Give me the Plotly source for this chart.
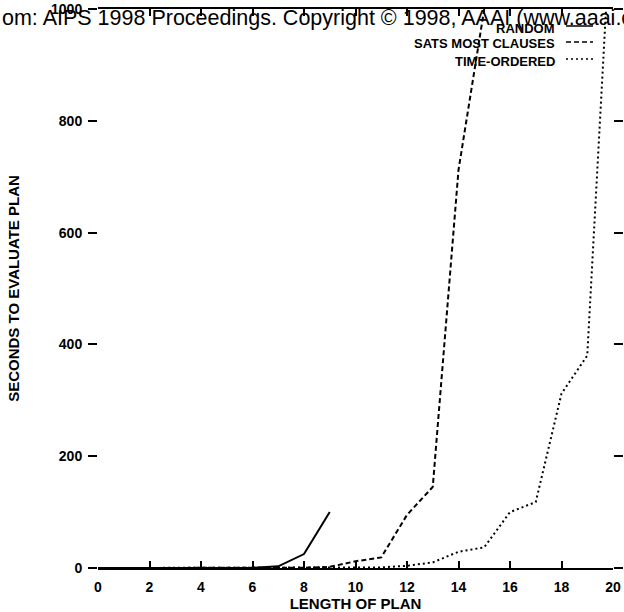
import plotly.graph_objects as go

# ---- data ----
x_random = [0, 1, 2, 3, 4, 5, 6, 7, 8, 9]
y_random = [0, 0, 0, 0, 0, 0, 0.5, 3, 25, 100]

x_sats = [0, 1, 2, 3, 4, 5, 6, 7, 8, 9, 10, 11, 12, 13, 14, 15]
y_sats = [0, 0, 0, 0, 0, 0, 0, 0, 0.5, 2, 12, 19, 95, 145, 712, 1000]

x_time = [0, 1, 2, 3, 4, 5, 6, 7, 8, 9, 10, 11, 12, 13, 14, 15, 16, 17, 18, 19, 20]
y_time = [0, 0, 0, 0, 0, 0, 0, 0, 0, 0, 0.5, 1, 4, 10, 29, 37, 100, 118, 312, 380, 1230]

series_names = ["RANDOM", "SATS MOST CLAUSES", "TIME-ORDERED"]
x_ticks = [0, 2, 4, 6, 8, 10, 12, 14, 16, 18, 20]
y_ticks = [0, 200, 400, 600, 800, 1000]
y_ticktext = ["0", "200", "400", "600", "800", "1000"]

W, H = 624, 612
ML, MR, MT, MB = 98, 11, 9, 44
PW, PH = W - ML - MR, H - MT - MB
BOTTOM = H - MB


def px_x(p):
    return (p - ML) / PW


def px_y(p):
    return (BOTTOM - p) / PH


FONT = "Liberation Sans"
dashes = ["solid", "5px,3px", "2px,3px"]

fig = go.Figure()
for xs, ys, name, dash in zip([x_random, x_sats, x_time], [y_random, y_sats, y_time],
                              series_names, dashes):
    fig.add_trace(go.Scatter(x=xs, y=ys, mode="lines", name=name,
                             line=dict(color="black", width=2, dash=dash),
                             showlegend=False))

fig.update_layout(
    width=W, height=H,
    margin=dict(l=ML, r=MR, t=MT, b=MB, autoexpand=False),
    paper_bgcolor="white", plot_bgcolor="white",
    font=dict(family=FONT, color="black", size=14, weight="bold"),
    xaxis=dict(range=[0, 20], tickvals=x_ticks, ticks="inside", ticklen=7, tickwidth=2,
               tickcolor="black", showline=True, linecolor="black", linewidth=2,
               mirror="ticks", showgrid=False, zeroline=False, ticklabelstandoff=5,
               tickfont=dict(family=FONT, size=14, weight="bold"),
               title=dict(text="LENGTH OF PLAN", standoff=0,
                          font=dict(family=FONT, size=15, weight="bold"))),
    yaxis=dict(range=[0, 1000], tickvals=y_ticks, ticktext=y_ticktext, ticks="outside",
               ticklen=9, tickwidth=2, tickcolor="black", showline=False, showgrid=False,
               zeroline=False, ticklabelstandoff=3, mirror="ticks",
               tickfont=dict(family=FONT, size=14, weight="bold"),
               title=dict(text="SECONDS TO EVALUATE PLAN", standoff=27,
                          font=dict(family=FONT, size=15, weight="bold"))),
)

# legend drawn manually (labels right-aligned, samples on the right)
legend_rows = [28, 44, 61]
for name, dash, yrow in zip(series_names, dashes, legend_rows):
    fig.add_annotation(text=name, xref="paper", yref="paper", x=px_x(557), y=px_y(yrow),
                       xanchor="right", yanchor="middle", showarrow=False,
                       font=dict(family=FONT, size=13, weight="bold", color="black"))
    fig.add_shape(type="line", xref="paper", yref="paper",
                  x0=px_x(566), x1=px_x(593), y0=px_y(yrow - 2), y1=px_y(yrow - 2),
                  line=dict(color="black", width=1.5, dash=dash))

# scanned-page watermark line
fig.add_annotation(text="om: AIPS 1998 Proceedings. Copyright \u00a9 1998, AAAI (www.aaai.o",
                   xref="paper", yref="paper", x=px_x(0), y=px_y(18),
                   xanchor="left", yanchor="middle", showarrow=False,
                   font=dict(family=FONT, size=21.5, weight="normal", color="black"))

fig.write_html("out.html")
